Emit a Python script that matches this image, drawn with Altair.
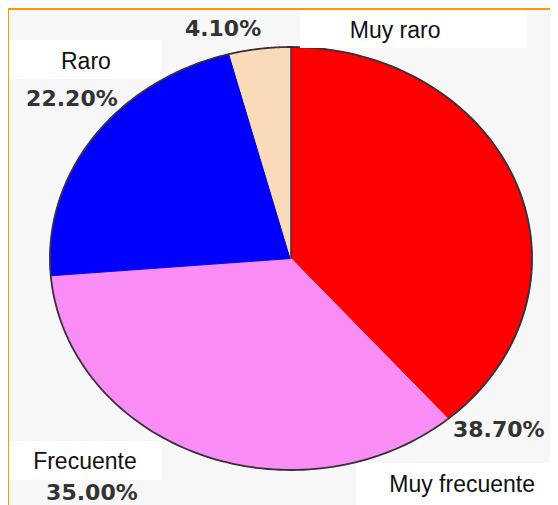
import altair as alt
import pandas as pd

# ---- data ----
categories = ["Muy frecuente", "Frecuente", "Raro", "Muy raro"]
percent = [38.7, 35.0, 22.2, 4.1]
pct_labels = ["38.70%", "35.00%", "22.20%", "4.10%"]
colors = ["#ff0000", "#fa8cf5", "#0000ff", "#f9dab9"]

# ---- label layout (units of the pie radius, origin at pie centre) ----
pct_pos_x = [0.862, -0.826, -0.909, -0.282]
pct_pos_y = [-0.811, -1.110, 0.754, 1.085]
name_pos_x = [0.710, -0.855, -0.851, 0.432]
name_pos_y = [-1.071, -0.962, 0.929, 1.076]
box_x1 = [0.270, -1.170, -1.170, 0.037]
box_x2 = [1.080, -0.535, -0.535, 0.979]
box_y1 = [-0.967, -0.863, 1.033, 1.175]
box_y2 = [-1.170, -1.047, 0.849, 0.995]

N = 90  # points per arc

total = sum(percent)
rows = []
acc = 0.0
for cat, v in zip(categories, percent):
    for t in range(-1, N + 1):
        rows.append({"cat": cat, "start": acc / total, "frac": v / total, "t": t})
    acc += v
wedge_df = pd.DataFrame(rows)

labels_df = pd.DataFrame({
    "cat": categories, "pct": pct_labels,
    "px": pct_pos_x, "py": pct_pos_y,
    "nx": name_pos_x, "ny": name_pos_y,
    "bx1": box_x1, "bx2": box_x2, "by1": box_y1, "by2": box_y2,
})

xs = alt.Scale(domain=[-1, 1], nice=False, zero=False)
ys = alt.Scale(domain=[-1, 1], nice=False, zero=False)
cscale = alt.Scale(domain=categories, range=colors)

base = alt.Chart(wedge_df).transform_calculate(
    a=f"2*PI*(datum.start + datum.frac*max(datum.t,0)/{N})",
    x="datum.t < 0 ? 0 : sin(datum.a)",
    y="datum.t < 0 ? 0 : cos(datum.a)",
)

bg = alt.Chart(pd.DataFrame({"x1": [-1.170], "x2": [1.08], "y1": [1.175], "y2": [-1.170]})).mark_rect(
    color="#f7f7f7"
).encode(
    x=alt.X("x1:Q", scale=xs, axis=None), x2="x2:Q",
    y=alt.Y("y1:Q", scale=ys, axis=None), y2="y2:Q",
)

wedges = base.mark_line(strokeWidth=1, strokeJoin="round").encode(
    x=alt.X("x:Q", scale=xs, axis=None),
    y=alt.Y("y:Q", scale=ys, axis=None),
    fill=alt.Fill("cat:N", scale=cscale, legend=None),
    stroke=alt.Stroke("cat:N", scale=cscale, legend=None),
    order=alt.Order("t:Q"),
)

rim = base.transform_filter("datum.t >= 0").mark_line(
    stroke="#3a3038", strokeWidth=1.8
).encode(
    x=alt.X("x:Q", scale=xs, axis=None),
    y=alt.Y("y:Q", scale=ys, axis=None),
    order=alt.Order("a:Q"),
)

edge = base.transform_filter(
    f"datum.cat == '{categories[0]}' && datum.t <= 0"
).mark_line(stroke="#3a3038", strokeWidth=1.5).encode(
    x=alt.X("x:Q", scale=xs, axis=None),
    y=alt.Y("y:Q", scale=ys, axis=None),
    order=alt.Order("t:Q"),
)

boxes = alt.Chart(labels_df).mark_rect(color="#ffffff").encode(
    x=alt.X("bx1:Q", scale=xs, axis=None), x2="bx2:Q",
    y=alt.Y("by1:Q", scale=ys, axis=None), y2="by2:Q",
)

pct_text = alt.Chart(labels_df).mark_text(
    font="DejaVu Sans", fontWeight="bold", fontSize=22, color="#333333",
    align="center", baseline="middle",
).encode(
    x=alt.X("px:Q", scale=xs, axis=None),
    y=alt.Y("py:Q", scale=ys, axis=None),
    text="pct:N",
)

name_text = alt.Chart(labels_df).mark_text(
    font="Liberation Sans", fontSize=23, color="#111111",
    align="center", baseline="middle",
).encode(
    x=alt.X("nx:Q", scale=xs, axis=None),
    y=alt.Y("ny:Q", scale=ys, axis=None),
    text="cat:N",
)

chart = alt.layer(bg, wedges, edge, rim, boxes, pct_text, name_text).properties(
    width=482,
    height=423,
    padding={"left": 42, "top": 39, "right": 18, "bottom": 35},
    autosize=alt.AutoSizeParams(type="none"),
    background="#ff9900",
).configure_view(strokeWidth=0)

chart.save("out.html", embed_options={"renderer": "svg", "actions": False})
